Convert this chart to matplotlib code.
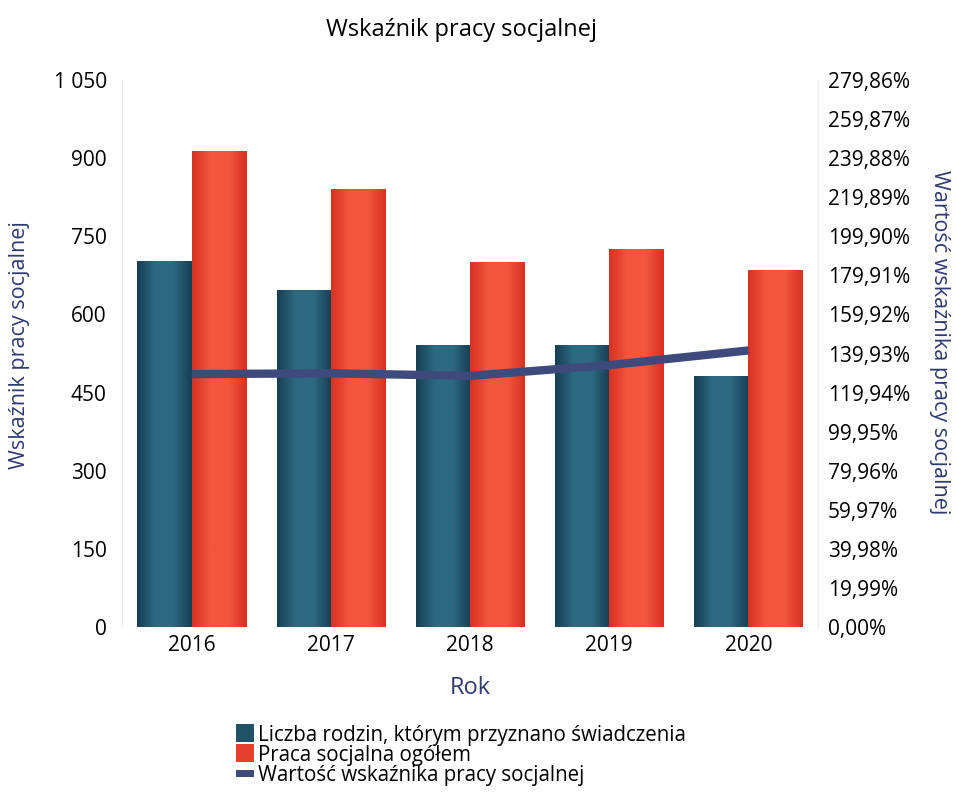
import numpy as np
import matplotlib
matplotlib.use("Agg")
import matplotlib.pyplot as plt
from matplotlib.patches import Rectangle
from matplotlib.colors import LinearSegmentedColormap

plt.rcParams["font.family"] = ["Open Sans", "DejaVu Sans"]

# data
years = ["2016", "2017", "2018", "2019", "2020"]
families = [702, 646, 541, 540, 481]
social_work = [912, 840, 700, 725, 684]
indicator_pct = [129.4, 129.8, 128.5, 134.0, 141.5]

left_ticks = [0, 150, 300, 450, 600, 750, 900, 1050]
right_max = 279.86
right_step = 19.99

legend_labels = [
    "Liczba rodzin, którym przyznano świadczenia",
    "Praca socjalna ogółem",
    "Wartość wskaźnika pracy socjalnej",
]

DARK = "#1f5167"
RED = "#e5402b"
LINE = "#3e4a7c"
LABEL = "#2e3a70"


def gradient_bars(ax, bars, edge, mid):
    cmap = LinearSegmentedColormap.from_list("g", [edge, mid, mid, edge])
    grad = np.linspace(0, 1, 64).reshape(1, -1)
    for b in bars:
        x0, w, h = b.get_x(), b.get_width(), b.get_height()
        ax.imshow(grad, cmap=cmap, aspect="auto", extent=(x0, x0 + w, 0, h),
                  zorder=2, interpolation="bicubic")


fig = plt.figure(figsize=(9.57, 7.92), dpi=100)
ax = fig.add_axes([0.1275, 0.2083, 0.7273, 0.6907])

x = np.arange(len(years))
w = 0.39
b1 = ax.bar(x - w / 2, families, w, color=DARK, zorder=1)
b2 = ax.bar(x + w / 2, social_work, w, color=RED, zorder=1)
gradient_bars(ax, b1, "#173f54", "#2d6a82")
gradient_bars(ax, b2, "#d83221", "#f2563d")

ax.set_xlim(-0.5, len(years) - 0.5)
ax.set_ylim(0, 1050)
ax.set_yticks(left_ticks)
ax.set_yticklabels([f"{v:,}".replace(",", " ") for v in left_ticks])
ax.set_xticks(x)
ax.set_xticklabels(years)
ax.tick_params(axis="both", length=0, labelsize=15)
ax.tick_params(axis="x", pad=6)
ax.tick_params(axis="y", pad=11)
for s in ["top", "bottom"]:
    ax.spines[s].set_visible(False)
for s in ["left", "right"]:
    ax.spines[s].set_color("#ececec")
ax.set_xlabel("Rok", color=LABEL, fontsize=17, va="center")
ax.xaxis.set_label_coords(0.5, -0.112)
ax.set_ylabel("Wskaźnik pracy socjalnej", color=LABEL, fontsize=15.5, va="center")
ax.yaxis.set_label_coords(-0.147, 0.515)

ax2 = ax.twinx()
ax2.plot(x, indicator_pct, color=LINE, lw=6, zorder=5, solid_capstyle="butt")
ax2.set_ylim(0, right_max)
rt = [i * right_step for i in range(15)]
ax2.set_yticks(rt)
ax2.set_yticklabels([f"{v:.2f}%".replace(".", ",") for v in rt])
ax2.tick_params(axis="y", length=0, labelsize=15, pad=7)
for s in ["top", "bottom", "left"]:
    ax2.spines[s].set_visible(False)
ax2.spines["right"].set_color("#ececec")
ax2.set_ylabel("Wartość wskaźnika pracy socjalnej", color=LABEL, fontsize=15.5,
               rotation=270, va="center")
ax2.yaxis.set_label_coords(1.175, 0.52)

fig.text(0.482, 0.962, "Wskaźnik pracy socjalnej", ha="center", va="center",
         fontsize=17)

# hand-built legend below the plot
W, H = 957, 792
rows_y = [733, 753, 773]
colors = [DARK, RED, LINE]
for i, (yy, lab, c) in enumerate(zip(rows_y, legend_labels, colors)):
    hh = 18 if i < 2 else 7
    fig.add_artist(Rectangle((236 / W, (H - yy - hh / 2) / H), 18 / W, hh / H,
                             transform=fig.transFigure, color=c, lw=0))
    fig.text(258 / W, (H - yy) / H, lab, ha="left", va="center_baseline",
             fontsize=14.8)

fig.savefig("out.png", dpi=100)
